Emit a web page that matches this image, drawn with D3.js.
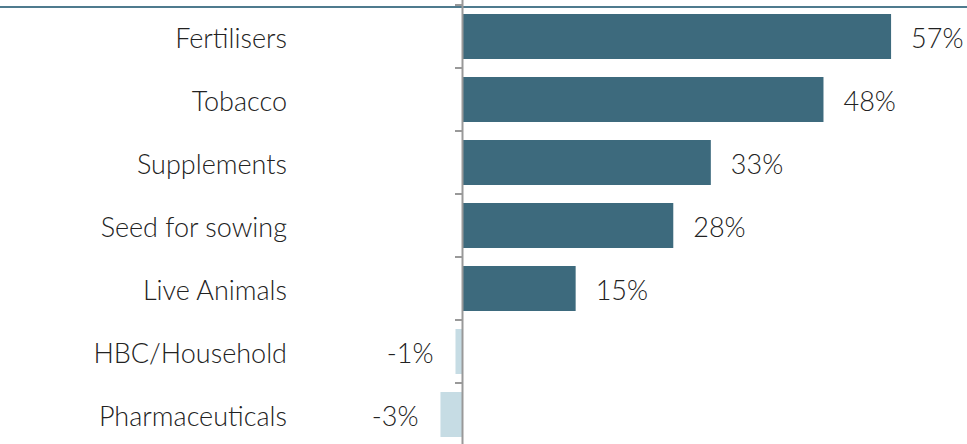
<!DOCTYPE html>
<html>
<head>
<meta charset="utf-8">
<script src="https://cdn.jsdelivr.net/npm/d3@7"></script>
<style>
  html, body { margin: 0; padding: 0; background: #fff; }
  svg { display: block; }
  text { font-family: Lato, "Open Sans", sans-serif; font-weight: 300; fill: #222; }
</style>
</head>
<body>
<svg id="chart" width="967" height="444"></svg>
<script>
// Year-on-year change by product category (%)
const categories = ["Fertilisers", "Tobacco", "Supplements", "Seed for sowing", "Live Animals", "HBC/Household", "Pharmaceuticals"];
const values = [57, 48, 33, 28, 15, -1, -3];
const valueLabels = ["57%", "48%", "33%", "28%", "15%", "-1%", "-3%"];

const width = 967, height = 444;
const svg = d3.select("#chart");

const zeroX = 463;
const pxPerUnit = 7.51;
const x = d3.scaleLinear()
  .domain([-3, 57])
  .range([zeroX - 3 * pxPerUnit, zeroX + 57 * pxPerUnit]);

const y = d3.scaleBand()
  .domain(categories)
  .range([5, 5 + 63 * categories.length])
  .paddingInner(0.286)
  .paddingOuter(0.143);

const rows = categories.map((c, i) => ({ c, v: values[i], label: valueLabels[i] }));

// Bars
svg.append("g").selectAll("rect")
  .data(rows)
  .join("rect")
  .attr("x", d => x(Math.min(0, d.v)))
  .attr("width", d => Math.abs(x(d.v) - x(0)))
  .attr("y", d => y(d.c))
  .attr("height", y.bandwidth())
  .attr("fill", d => d.v >= 0 ? "#3d6a7d" : "#c6dce4");

// Top rule
svg.append("line")
  .attr("x1", 0).attr("x2", width)
  .attr("y1", 7).attr("y2", 7)
  .attr("stroke", "#4f7b8e").attr("stroke-width", 2);

// Category axis at zero with ticks on band boundaries
const boundaries = d3.range(categories.length + 1).map(i => 5 + 63 * i);
svg.append("g").selectAll("line")
  .data(boundaries)
  .join("line")
  .attr("x1", x(0) - 8).attr("x2", x(0))
  .attr("y1", d => d).attr("y2", d => d)
  .attr("stroke", "#999").attr("stroke-width", 2);

svg.append("line")
  .attr("x1", x(0) - 0.5).attr("x2", x(0) - 0.5)
  .attr("y1", 0).attr("y2", height)
  .attr("stroke", "#999").attr("stroke-width", 2);

// Category labels
svg.append("g").selectAll("text")
  .data(rows)
  .join("text")
  .attr("x", 287)
  .attr("y", d => y(d.c) + y.bandwidth() / 2 + 1.5)
  .attr("dy", "0.36em")
  .attr("text-anchor", "end")
  .attr("font-size", 27)
  .text(d => d.c);

// Value labels
svg.append("g").selectAll("text")
  .data(rows)
  .join("text")
  .attr("x", d => d.v >= 0 ? x(d.v) + 20 : x(d.v) - 22)
  .attr("y", d => y(d.c) + y.bandwidth() / 2 + 1.5)
  .attr("dy", "0.36em")
  .attr("text-anchor", d => d.v >= 0 ? "start" : "end")
  .attr("font-size", 27)
  .text(d => d.label);
</script>
</body>
</html>
